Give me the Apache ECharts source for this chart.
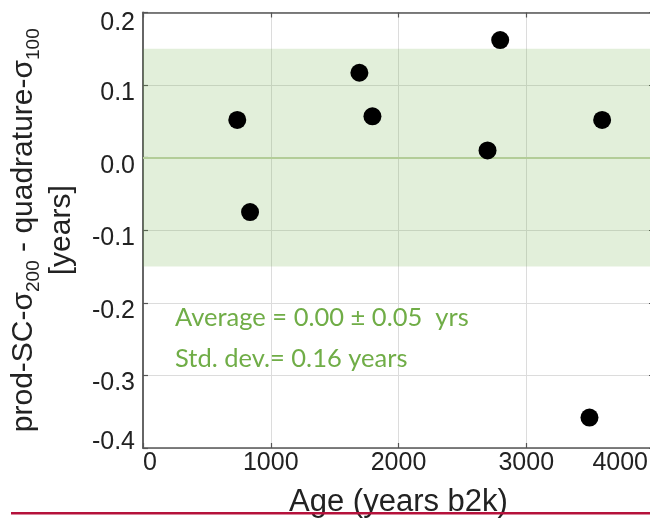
<!DOCTYPE html>
<html>
<head>
<meta charset="utf-8">
<script src="https://cdn.jsdelivr.net/npm/echarts@6/dist/echarts.min.js"></script>
<style>
  html, body { margin: 0; padding: 0; background: #fff; }
  #chart { width: 650px; height: 519px; }
</style>
</head>
<body>
<div id="chart"></div>
<script>
// ---- data ----
var ages = [738, 838, 1694, 1796, 2697, 2796, 3495, 3594];
var diffs = [0.052, -0.075, 0.117, 0.057, 0.010, 0.162, -0.358, 0.052];
var bandLimits = [-0.15, 0.15];
var zeroLevel = 0;
var xTicks = { min: 0, max: 4000, interval: 1000 };
var yTicks = { min: -0.4, max: 0.2, interval: 0.1 };
var statLines = ['Average = 0.00 \u00b1 0.05  yrs', 'Std. dev.= 0.16 years'];

var points = ages.map(function (a, i) { return [a, diffs[i]]; });

var chart = echarts.init(document.getElementById('chart'), null, { renderer: 'canvas' });

var axisLineStyle = { color: '#555', width: 1.5 };
var tickStyle = { color: '#555', width: 1.2 };
var fontAxis = 'Liberation Sans';

function yFmt(v) {
  var s = Math.abs(v) < 1e-9 ? '0.0' : v.toFixed(1);
  if (Math.abs(v - yTicks.max) < 1e-9) return '{hi|' + s + '}';
  if (Math.abs(v - yTicks.min) < 1e-9) return '{lo|' + s + '}';
  return '{n|' + s + '}';
}
function xFmt(v) {
  if (v === xTicks.max) return '{r|' + v + '}';
  return '{n|' + v + '}';
}
var lblBase = { fontFamily: fontAxis, fontSize: 25, color: '#222' };

var option = {
  animation: false,
  backgroundColor: '#fff',
  grid: { left: 143, top: 12.5, bottom: 71, right: -4, containLabel: false, outerBoundsMode: 'none' },
  xAxis: [{
    type: 'value',
    min: xTicks.min, max: xTicks.max, interval: xTicks.interval,
    position: 'bottom',
    axisLine: { show: true, onZero: false, lineStyle: axisLineStyle },
    axisTick: { show: true, inside: true, length: 5, lineStyle: tickStyle },
    splitLine: { show: true, lineStyle: { color: '#dcdcdc', width: 1 } },
    axisLabel: {
      margin: 3,
      formatter: xFmt,
      alignMinLabel: 'left',
      alignMaxLabel: 'right',
      rich: {
        n: lblBase,
        r: Object.assign({}, lblBase, { padding: [0, 6, 0, 0] })
      }
    },
    name: 'Age (years b2k)',
    nameLocation: 'middle',
    nameGap: 39,
    nameTextStyle: { fontFamily: fontAxis, fontSize: 31, color: '#222' }
  }, {
    type: 'value',
    min: xTicks.min, max: xTicks.max, interval: xTicks.interval,
    position: 'top',
    axisLine: { show: true, onZero: false, lineStyle: axisLineStyle },
    axisTick: { show: true, inside: true, length: 5, lineStyle: tickStyle },
    splitLine: { show: false },
    axisLabel: { show: false }
  }],
  yAxis: [{
    type: 'value',
    min: yTicks.min, max: yTicks.max, interval: yTicks.interval,
    position: 'left',
    axisLine: { show: true, onZero: false, lineStyle: { color: '#666', width: 2 } },
    axisTick: { show: true, inside: true, length: 5, lineStyle: tickStyle },
    splitLine: { show: true, lineStyle: { color: '#dcdcdc', width: 1 } },
    axisLabel: {
      margin: 8,
      formatter: yFmt,
      rich: {
        n: Object.assign({}, lblBase, { padding: [16, 0, 0, 0] }),
        hi: Object.assign({}, lblBase, { padding: [22, 0, 0, 0] }),
        lo: Object.assign({}, lblBase, { padding: [0, 0, 12, 0] })
      }
    },
    name: 'prod-SC-\u03c3{s|200} - quadrature-\u03c3{s|100}\n[years]',
    nameLocation: 'middle',
    nameRotate: 90,
    nameGap: 58,
    nameTextStyle: {
      fontFamily: fontAxis, fontSize: 30, color: '#222', lineHeight: 38,
      rich: {
        s: { fontFamily: fontAxis, fontSize: 19, color: '#222', lineHeight: 22, verticalAlign: 'bottom' }
      }
    }
  }, {
    type: 'value',
    min: yTicks.min, max: yTicks.max, interval: yTicks.interval,
    position: 'right',
    axisLine: { show: true, onZero: false, lineStyle: axisLineStyle },
    axisTick: { show: true, inside: true, length: 5, lineStyle: tickStyle },
    splitLine: { show: false },
    axisLabel: { show: false }
  }],
  series: [{
    type: 'scatter',
    xAxisIndex: 0,
    yAxisIndex: 0,
    data: points,
    symbol: 'circle',
    symbolSize: 18,
    itemStyle: { color: '#000', opacity: 1 },
    z: 5,
    markArea: {
      silent: true,
      itemStyle: { color: 'rgba(112,173,71,0.2)' },
      data: [[{ yAxis: bandLimits[0] }, { yAxis: bandLimits[1] }]]
    },
    markLine: {
      silent: true,
      symbol: 'none',
      label: { show: false },
      lineStyle: { color: '#b3cd98', width: 2, type: 'solid' },
      data: [{ yAxis: zeroLevel }]
    }
  }],
  graphic: [
    {
      type: 'text', x: 175, y: 318, z: 10,
      style: { text: statLines[0], fontFamily: 'Lato', fontSize: 25.5, fill: '#70ad47', verticalAlign: 'middle' }
    },
    {
      type: 'text', x: 175, y: 359, z: 10,
      style: { text: statLines[1], fontFamily: 'Lato', fontSize: 25.5, fill: '#70ad47', verticalAlign: 'middle' }
    },
    {
      type: 'rect', z: 10,
      shape: { x: 11, y: 512, width: 640, height: 2.5 },
      style: { fill: '#b5113b' }
    }
  ]
};
chart.setOption(option);
</script>
</body>
</html>
